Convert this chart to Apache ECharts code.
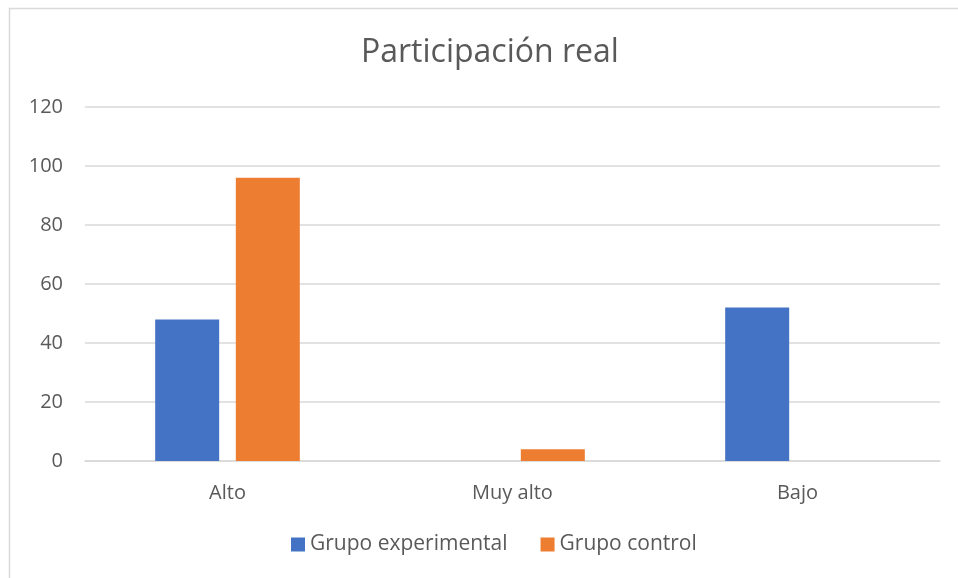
<!DOCTYPE html>
<html>
<head>
<meta charset="utf-8">
<script src="https://cdn.jsdelivr.net/npm/echarts@6/dist/echarts.min.js"></script>
<style>
  html, body { margin: 0; padding: 0; background: #fff; }
  #chart { width: 958px; height: 578px; }
</style>
</head>
<body>
<div id="chart"></div>
<script>
// data
const categories = ["Alto", "Muy alto", "Bajo"];
const experimental = [48, 0, 52];
const control = [96, 4, 0];
const seriesNames = ["Grupo experimental", "Grupo control"];

const textColor = "#595959";
const font = "Open Sans";

let myChart = echarts.init(document.getElementById("chart"));
myChart.setOption({
  animation: false,
  graphic: [
    {
      // outer chart frame (right/bottom edge fall outside the crop)
      type: "rect",
      shape: { x: 9.5, y: 8.5, width: 960, height: 580 },
      style: { fill: "none", stroke: "#d9d9d9", lineWidth: 1.5 },
    },
  ],
  title: {
    text: "Participación real",
    left: 356,
    top: 32,
    textStyle: {
      fontFamily: font,
      fontSize: 32,
      fontWeight: "normal",
      color: textColor,
    },
  },
  legend: {
    bottom: 18,
    left: 286,
    itemWidth: 14,
    itemHeight: 14,
    itemGap: 33,
    icon: "rect",
    textStyle: { fontFamily: font, fontSize: 21, color: textColor },
    data: seriesNames,
  },
  grid: {
    left: 85,
    right: 18,
    top: 107,
    bottom: 117,
  },
  xAxis: {
    type: "category",
    data: categories,
    axisLine: { lineStyle: { color: "#d9d9d9", width: 1.5 } },
    axisTick: { show: false },
    axisLabel: {
      fontFamily: font,
      fontSize: 20,
      color: textColor,
      margin: 22,
    },
  },
  yAxis: {
    type: "value",
    min: 0,
    max: 120,
    interval: 20,
    axisLine: { show: false },
    axisTick: { show: false },
    splitLine: { lineStyle: { color: "#d9d9d9", width: 1.5 } },
    axisLabel: {
      fontFamily: font,
      fontSize: 20,
      color: textColor,
      margin: 22,
    },
  },
  series: [
    {
      name: seriesNames[0],
      type: "bar",
      data: experimental,
      barWidth: 64,
      barGap: "26%",
      itemStyle: { color: "#4472c4" },
    },
    {
      name: seriesNames[1],
      type: "bar",
      data: control,
      barWidth: 64,
      barGap: "26%",
      itemStyle: { color: "#ed7d31" },
    },
  ],
});
</script>
</body>
</html>
